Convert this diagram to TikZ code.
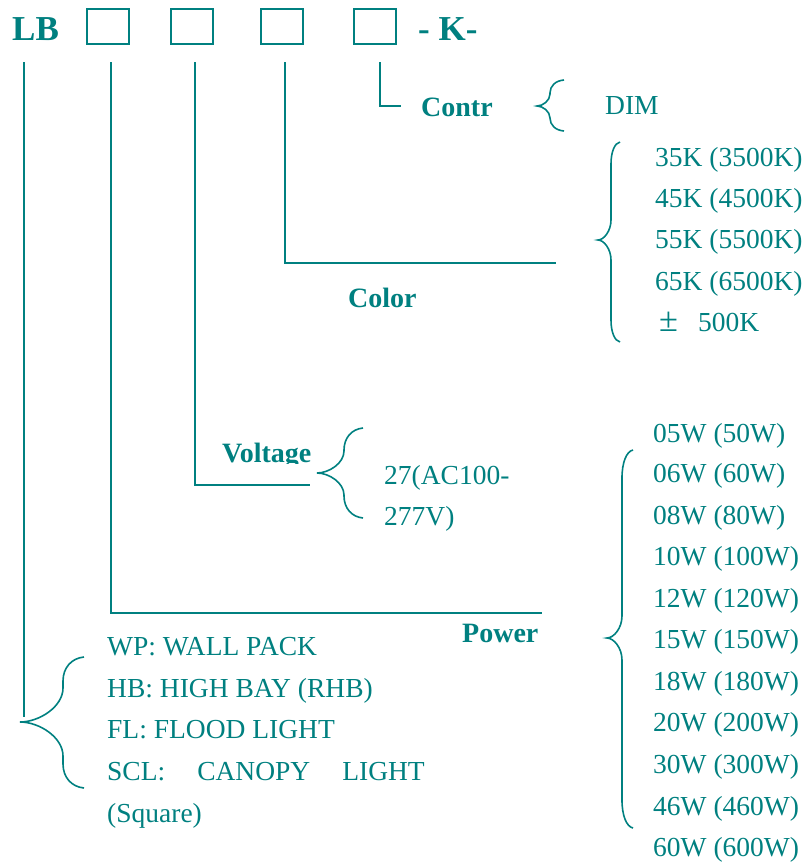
\documentclass[tikz,border=0pt]{standalone}
\usepackage{fontspec}
\setmainfont{Liberation Serif}
\definecolor{tealc}{RGB}{0,128,128}
% tip x, tip y, mid x, end x, top y, bottom y, end curve height, tip curve height
\newcommand\mybrace[8]{%
  \draw[conn] (#4,#5) .. controls ({#3+0.4*(#4-#3)},{#5+0.05*#7}) and (#3,{#5+0.45*#7}) .. (#3,{#5+#7})
    -- (#3,{#2-#8}) .. controls (#3,{#2-0.45*#8}) and ({#1+0.45*(#3-#1)},#2) .. (#1,#2)
    .. controls ({#1+0.45*(#3-#1)},#2) and (#3,{#2+0.45*#8}) .. (#3,{#2+#8})
    -- (#3,{#6-#7}) .. controls (#3,{#6-0.45*#7}) and ({#3+0.4*(#4-#3)},{#6-0.05*#7}) .. (#4,#6);}
\begin{document}
\begin{tikzpicture}[x=1pt,y=-1pt]
\tikzset{
  conn/.style={draw=tealc, line width=1.6pt},
  item/.style={anchor=base west, inner sep=0pt, text=tealc, font=\fontsize{27.5}{30}\selectfont},
  lbl/.style={anchor=base west, inner sep=0pt, text=tealc, font=\fontsize{28}{30}\selectfont\bfseries},
  title/.style={anchor=base west, inner sep=0pt, text=tealc, font=\fontsize{35}{38}\selectfont\bfseries},
  codebox/.style={draw=tealc, line width=1.6pt, minimum width=42pt, minimum height=35pt, inner sep=0pt, anchor=north west},
}
\useasboundingbox (0,0) rectangle (808,863);

% header
\node[title] (lb) at (12,40) {LB};
\node[codebox] (b1) at (86,8) {};
\node[codebox] (b2) at (170,8) {};
\node[codebox] (b3) at (260,8) {};
\node[codebox] (b4) at (353,8) {};
\node[title] (k) at (418,40) {- K-};

% line anchors
\coordinate (s0) at (24,62);  \coordinate (e0) at (24,717);
\coordinate (s1) at (111,62); \coordinate (m1) at (111,613); \coordinate (e1) at (542,613);
\coordinate (s2) at (195,62); \coordinate (m2) at (195,485); \coordinate (e2) at (310,485);
\coordinate (s3) at (285,62); \coordinate (m3) at (285,263); \coordinate (e3) at (556,263);
\coordinate (s4) at (380,62); \coordinate (m4) at (380,106); \coordinate (e4) at (401,106);

\draw[conn] (s0) -- (e0);
\draw[conn] (s1) -- (m1) -- (e1);
\draw[conn] (s2) -- (m2) -- (e2);
\draw[conn] (s3) -- (m3) -- (e3);
\draw[conn] (s4) -- (m4) -- (e4);

% labels
\node[lbl] (contr) at (421,116) {Contr};
\node[lbl] (color) at (348,307) {Color};
\begin{scope}
  \clip (215,425) rectangle (320,463);
  \node[lbl] (volt) at (222,462) {Voltage};
\end{scope}
\node[lbl] (power) at (462,642) {Power};

% braces
\mybrace{537}{106}{550}{564}{80}{131}{13}{12}
\mybrace{598}{240}{611}{620}{142}{342}{22}{20}
\mybrace{317}{473}{344}{363}{428}{518}{22}{22}
\mybrace{607}{638}{622}{633}{450}{828}{28}{22}
\mybrace{20}{722}{63}{84}{657}{788}{24}{34}

% control
\node[item] (dim) at (605,114) {DIM};

% colour
\node[item] (c1) at (655,166) {35K (3500K)};
\node[item] (c2) at (655,207) {45K (4500K)};
\node[item] (c3) at (655,248) {55K (5500K)};
\node[item] (c4) at (655,290) {65K (6500K)};
\node[item] (c5) at (659,331) {\scalebox{1.25}{±}\hspace{20pt}500K};

% voltage
\node[item] (v1) at (384,484) {27(AC100-};
\node[item] (v2) at (384,525) {277V)};

% power
\node[item] (p1) at (653,442) {05W (50W)};
\node[item] (p2) at (653,482) {06W (60W)};
\node[item] (p3) at (653,524) {08W (80W)};
\node[item] (p4) at (653,565) {10W (100W)};
\node[item] (p5) at (653,607) {12W (120W)};
\node[item] (p6) at (653,648) {15W (150W)};
\node[item] (p7) at (653,690) {18W (180W)};
\node[item] (p8) at (653,731) {20W (200W)};
\node[item] (p9) at (653,773) {30W (300W)};
\node[item] (p10) at (653,815) {46W (460W)};
\node[item] (p11) at (653,856) {60W (600W)};

% types
\node[item] (t1) at (107,655) {WP: WALL PACK};
\node[item] (t2) at (107,697) {HB: HIGH BAY (RHB)};
\node[item] (t3) at (107,738) {FL: FLOOD LIGHT};
\node[item] (t4) at (107,780) {SCL:\hspace{32pt}CANOPY\hspace{32pt}LIGHT};
\node[item] (t5) at (107,822) {(Square)};
\end{tikzpicture}
\end{document}
